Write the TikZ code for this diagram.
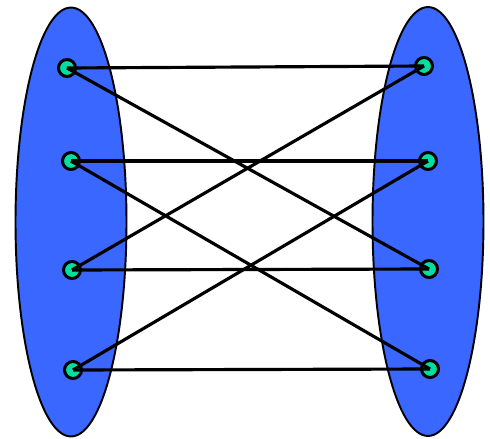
\documentclass[tikz,border=0pt]{standalone}
\usepackage{tikz}
\usetikzlibrary{shapes.geometric}
\definecolor{partblue}{HTML}{3A67FF}
\definecolor{vertgreen}{HTML}{00DEA0}
\tikzset{
  part/.style={draw, ellipse, fill=partblue, line width=1.1pt, minimum width=2.22cm, minimum height=8.58cm, inner sep=0pt},
  vert/.style={draw, circle, fill=vertgreen, line width=1.7pt, minimum size=0.34cm, inner sep=0pt},
  link/.style={line width=1.8pt}
}

\begin{document}
\begin{tikzpicture}[x=0.02cm, y=-0.02cm]
  \useasboundingbox (0,0) rectangle (490,439);
  \node[part] (left) at (71,222) {};
  \node[part] (right) at (428,221.5) {};

  \node[vert] (a1) at (67,68) {};
  \node[vert] (a2) at (71,161) {};
  \node[vert] (a3) at (72,270) {};
  \node[vert] (a4) at (73,370) {};
  \node[vert] (b1) at (424,66) {};
  \node[vert] (b2) at (428,161) {};
  \node[vert] (b3) at (429,269) {};
  \node[vert] (b4) at (430,369) {};

  \draw[link] (a1.center) -- (b1.center);
  \draw[link] (a1.center) -- (b3.center);
  \draw[link] (a2.center) -- (b2.center);
  \draw[link] (a2.center) -- (b4.center);
  \draw[link] (a3.center) -- (b1.center);
  \draw[link] (a3.center) -- (b3.center);
  \draw[link] (a4.center) -- (b2.center);
  \draw[link] (a4.center) -- (b4.center);
\end{tikzpicture}
\end{document}
